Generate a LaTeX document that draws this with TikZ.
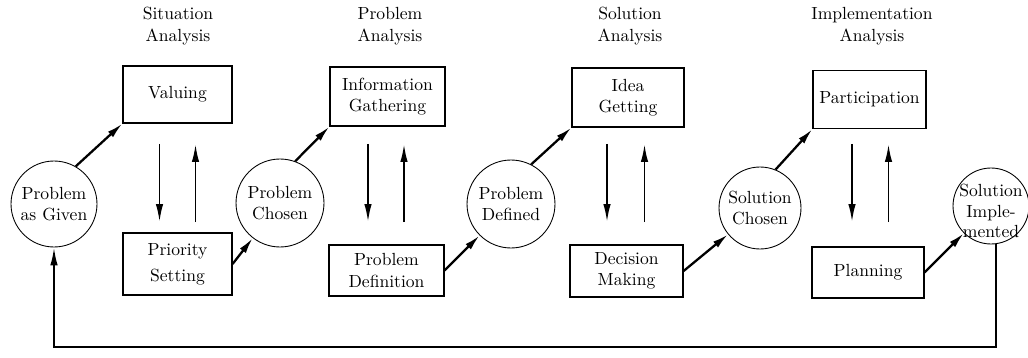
\documentclass[tikz,border=0pt]{standalone}
\usetikzlibrary{arrows.meta,calc}
\begin{document}
\begin{tikzpicture}[x=0.02cm,y=-0.02cm,
  font=\fontsize{10}{12}\selectfont,
  box/.style={draw,line width=0.7pt,inner sep=0pt,align=center},
  circ/.style={draw,circle,line width=0.5pt,inner sep=0pt,minimum size=#1,align=center},
  arr/.style={line width=1.3pt,-{Latex[length=0.32cm,width=0.15cm]}},
  varr/.style={line width=1.1pt,-{Latex[length=0.36cm,width=0.15cm]}},
  fb/.style={line width=1.1pt,line join=miter,-{Latex[length=0.36cm,width=0.15cm]}},
  title/.style={align=center,font=\fontsize{10}{12.5}\selectfont}]
\useasboundingbox (0,0) rectangle (1028,358);

% titles
\node[title] (t1) at (178,26) {Situation\\Analysis};
\node[title] (t2) at (390,26) {Problem\\Analysis};
\node[title] (t3) at (630,26) {Solution\\Analysis};
\node[title] (t4) at (872,26) {Implementation\\Analysis};

% boxes
\node[box,minimum width=2.18cm,minimum height=1.14cm] (v)  at (177.5,94.5) {Valuing};
\node[box,minimum width=2.18cm,minimum height=1.24cm] (ps) at (177.5,264) {Priority\\[3pt]Setting};
\node[box,minimum width=2.30cm,minimum height=1.18cm] (ig) at (387.5,96.5) {Information\\Gathering};
\node[box,minimum width=2.30cm,minimum height=1.02cm] (pd) at (386.5,270.5) {Problem\\Definition};
\node[box,minimum width=2.24cm,minimum height=1.18cm] (id) at (628,97.5) {Idea\\Getting};
\node[box,minimum width=2.26cm,minimum height=1.04cm] (dm) at (626.5,271) {Decision\\Making};
\node[box,minimum width=2.26cm,minimum height=1.16cm] (pa) at (869.5,99.5) {Participation};
\node[box,minimum width=2.24cm,minimum height=1.02cm] (pl) at (868,272.5) {Planning};

% circles
\node[circ=1.72cm] (c1) at (54,204) {Problem\\as Given};
\node[circ=1.76cm] (c2) at (280,203) {Problem\\Chosen};
\node[circ=1.76cm] (c3) at (511,204) {Problem\\Defined};
\node[circ=1.64cm] (c4) at (760,208) {Solution\\Chosen};
\node[circ=1.52cm,label={[align=center,yshift=-0.1cm,font=\fontsize{10}{11.5}\selectfont]center:{Solution\\Imple-\\mented}}] (c5) at (991,206) {};

% diagonal arrows
\draw[arr] (c1.60) -- (v.south west);
\draw[arr] (ps.east) -- (c2);
\draw[arr] (c2.70) -- (ig.south west);
\draw[arr] (pd.east) -- (c3);
\draw[arr] (c3.63) -- (id.south west);
\draw[arr] (dm.east) -- (c4);
\draw[arr] (c4.68) -- (pa.south west);
\draw[arr] (pl.east) -- (c5);

% vertical arrows
\coordinate (yt) at (0,144);
\coordinate (yb) at (0,222);
\foreach \a/\b/\l/\r in {v/ps/-18/18, ig/pd/-19.5/17.5, id/dm/-21/18, pa/pl/-17.5/20.5} {
  \draw[varr] ($(\a.south |- yt)+(\l,0)$) -- ($(\a.south |- yb)+(\l,0)$);
  \draw[varr] ($(\b.north |- yb)+(\r,0)$) -- ($(\b.north |- yt)+(\r,0)$);
}

% feedback
\coordinate (yl) at (0,347);
\draw[fb] (c5.-82) -- (c5.-82 |- yl) -| (c1.south);
\end{tikzpicture}
\end{document}
